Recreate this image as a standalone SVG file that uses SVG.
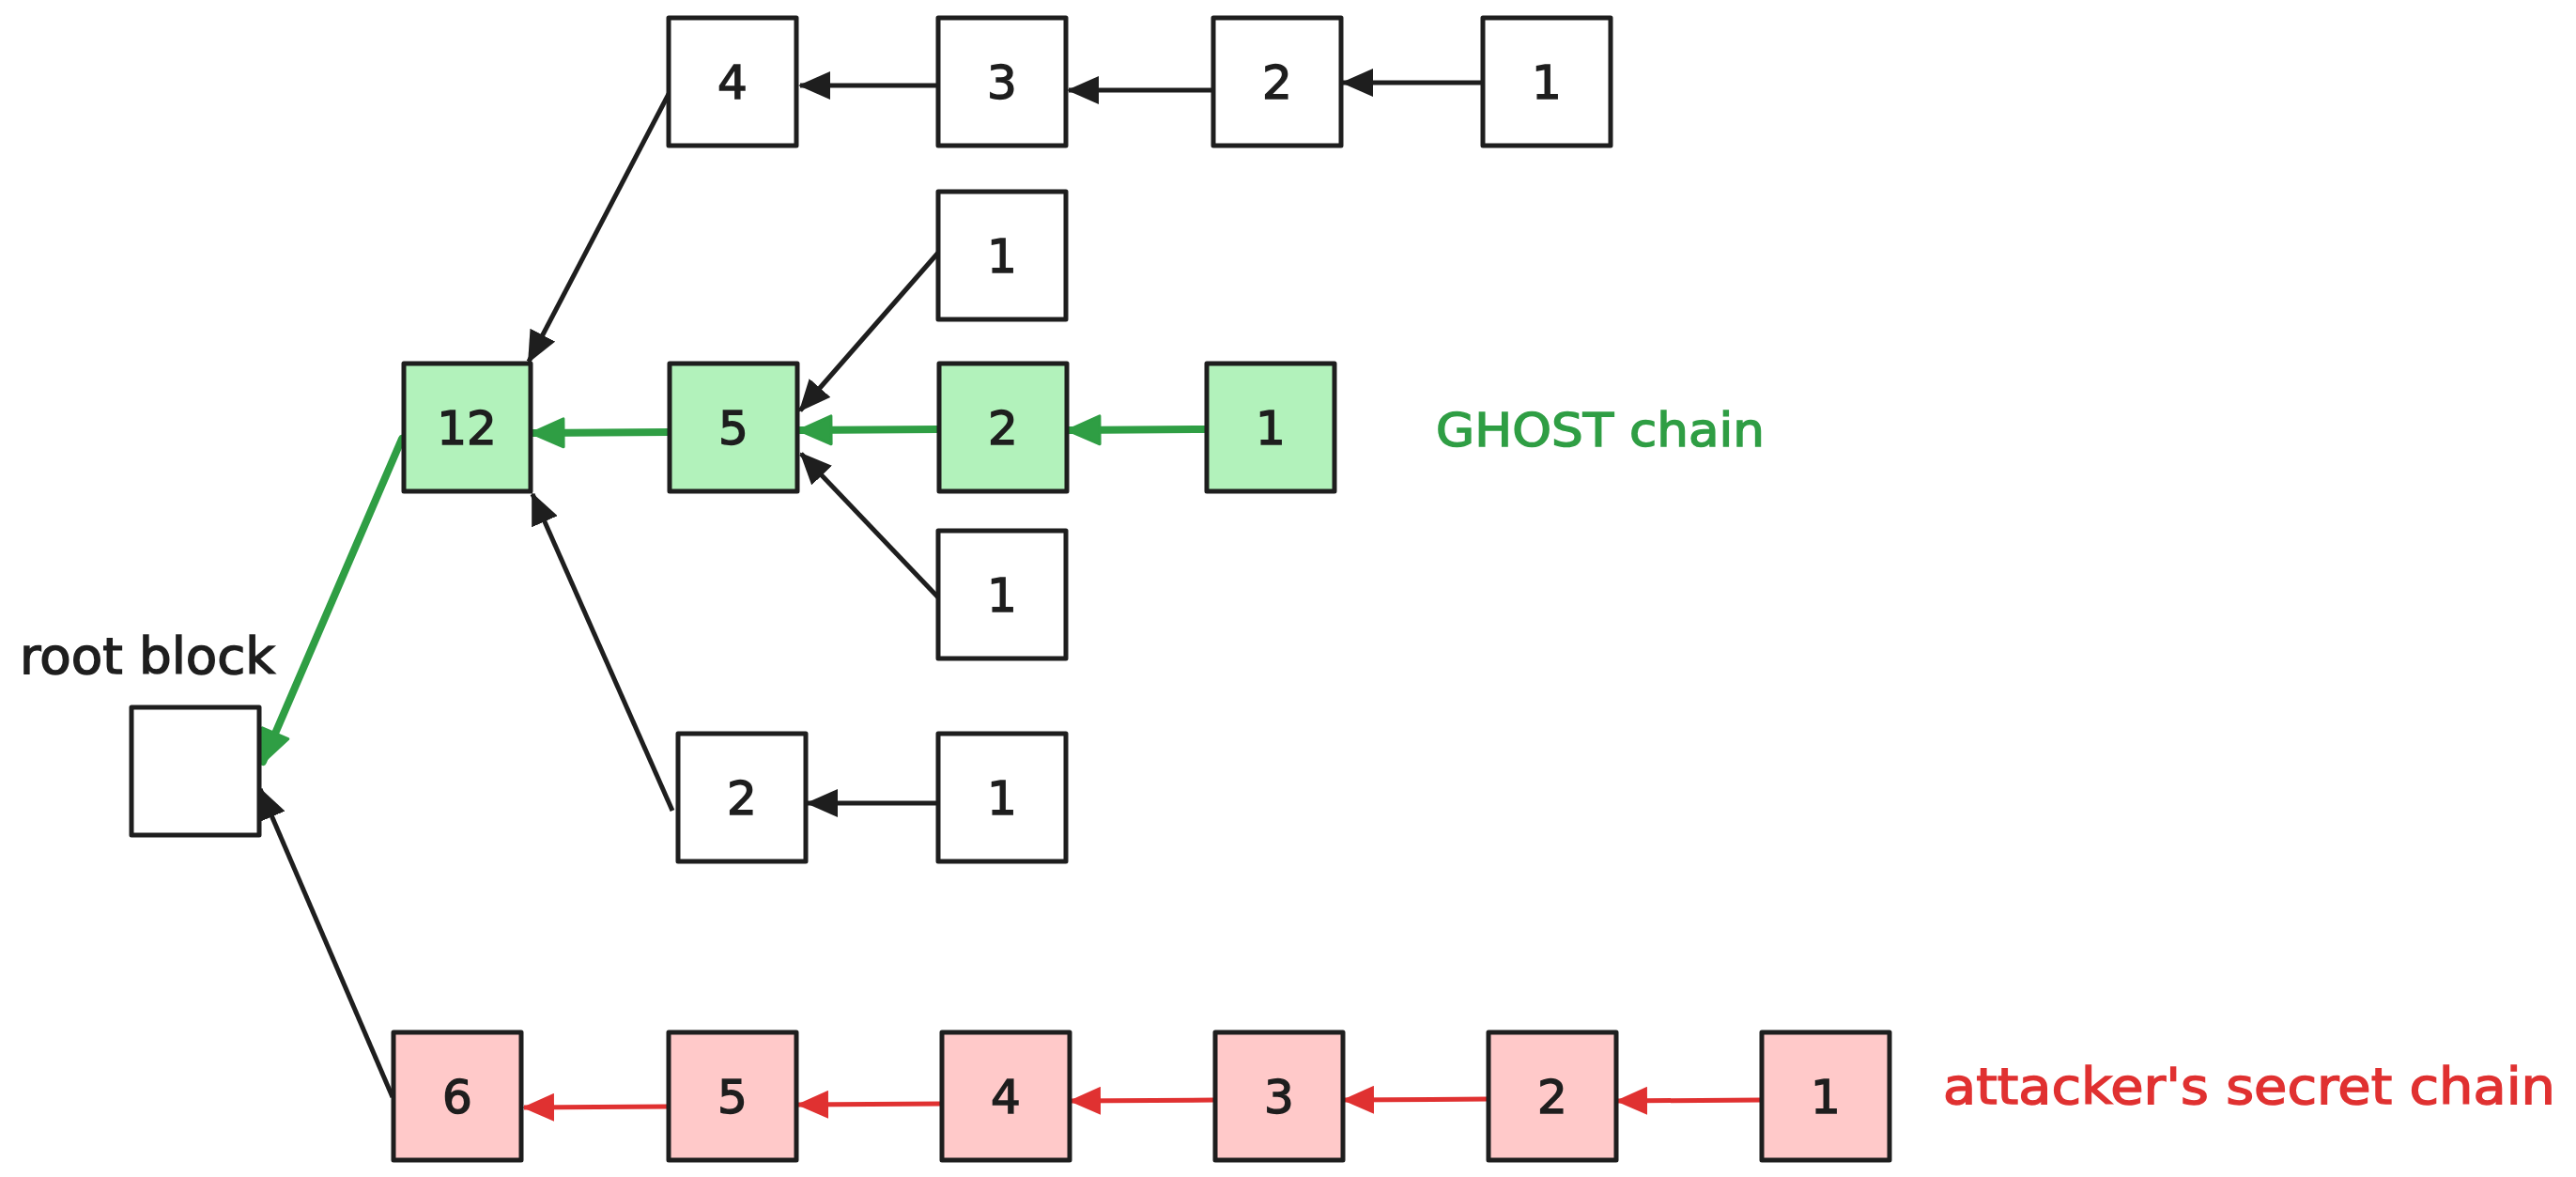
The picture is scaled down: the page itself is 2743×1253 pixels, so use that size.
<svg xmlns="http://www.w3.org/2000/svg" width="2743" height="1253" viewBox="0 0 2743 1253">
<style>
  .box { stroke: #1e1e1e; stroke-width: 5; stroke-linejoin: round; }
  .plain { fill: #ffffff; }
  .green { fill: #b2f2bb; }
  .red { fill: #ffc9c9; }
  .num { font-family: "DejaVu Sans", "Liberation Sans", sans-serif; font-size: 50px; fill: #1e1e1e; stroke: #1e1e1e; stroke-width: 1.5; text-anchor: middle; }
  .lbl { font-family: "DejaVu Sans", "Liberation Sans", sans-serif; stroke-width: 1.5; }
  .c-black { stroke: #1e1e1e; stroke-width: 5; fill: none; marker-end: url(#ah-black); }
  .c-green { stroke: #2f9e44; stroke-width: 8; fill: none; stroke-linecap: round; marker-end: url(#ah-green); }
  .c-red { stroke: #e03131; stroke-width: 5; fill: none; marker-end: url(#ah-red); }
</style>
<defs>
  <marker id="ah-black" markerUnits="userSpaceOnUse" markerWidth="34" markerHeight="30" viewBox="0 0 34 30" refX="32" refY="15" orient="auto">
    <path d="M0,0 L34,15 L0,30 z" fill="#1e1e1e"/>
  </marker>
  <marker id="ah-green" markerUnits="userSpaceOnUse" markerWidth="38" markerHeight="34" viewBox="0 0 38 34" refX="35" refY="17" orient="auto">
    <path d="M2,2 L36,17 L2,32 z" fill="#2f9e44" stroke="#2f9e44" stroke-width="3" stroke-linejoin="round"/>
  </marker>
  <marker id="ah-red" markerUnits="userSpaceOnUse" markerWidth="34" markerHeight="30" viewBox="0 0 34 30" refX="32" refY="15" orient="auto">
    <path d="M0,0 L34,15 L0,30 z" fill="#e03131"/>
  </marker>
</defs>
<rect width="2743" height="1253" fill="#ffffff"/>

<g id="connectors">
  <line class="c-black" x1="999" y1="91" x2="852" y2="91"/>
  <line class="c-black" x1="1292" y1="96" x2="1138" y2="96"/>
  <line class="c-black" x1="1579" y1="88" x2="1430" y2="88"/>
  <line class="c-black" x1="712" y1="100" x2="563" y2="385"/>
  <line class="c-black" x1="999" y1="269" x2="852" y2="437"/>
  <line class="c-black" x1="999" y1="636" x2="853" y2="483"/>
  <line class="c-black" x1="716" y1="863" x2="567" y2="526"/>
  <line class="c-black" x1="999" y1="855" x2="860" y2="855"/>
  <line class="c-black" x1="418" y1="1168" x2="277" y2="840"/>
  <line class="c-green" x1="1285" y1="457" x2="1138" y2="458"/>
  <line class="c-green" x1="1000" y1="457" x2="852" y2="458"/>
  <line class="c-green" x1="713" y1="460" x2="567" y2="461"/>
  <line class="c-green" x1="428" y1="467" x2="280" y2="811"/>
  <line class="c-red" x1="712" y1="1178" x2="558" y2="1179"/>
  <line class="c-red" x1="1003" y1="1175" x2="850" y2="1176"/>
  <line class="c-red" x1="1294" y1="1171" x2="1140" y2="1172"/>
  <line class="c-red" x1="1585" y1="1170" x2="1431" y2="1171"/>
  <line class="c-red" x1="1876" y1="1171" x2="1722" y2="1172"/>
</g>

<g id="root"><rect class="box plain" x="140" y="753" width="136" height="136"/></g>
<g id="root-label"><text class="lbl" x="21" y="717" font-size="54" fill="#1e1e1e" stroke="#1e1e1e" textLength="272" lengthAdjust="spacingAndGlyphs">root block</text></g>

<g id="top4"><rect class="box plain" x="712" y="19" width="136" height="136"/><text class="num" x="780" y="105">4</text></g>
<g id="top3"><rect class="box plain" x="999" y="19" width="136" height="136"/><text class="num" x="1067" y="105">3</text></g>
<g id="top2"><rect class="box plain" x="1292" y="19" width="136" height="136"/><text class="num" x="1360" y="105">2</text></g>
<g id="top1"><rect class="box plain" x="1579" y="19" width="136" height="136"/><text class="num" x="1647" y="105">1</text></g>

<g id="upper1"><rect class="box plain" x="999" y="204" width="136" height="136"/><text class="num" x="1067" y="290">1</text></g>

<g id="g12"><rect class="box green" x="430" y="387" width="135" height="136"/><text class="num" x="497" y="473">12</text></g>
<g id="g5"><rect class="box green" x="713" y="387" width="136" height="136"/><text class="num" x="781" y="473">5</text></g>
<g id="g2"><rect class="box green" x="1000" y="387" width="136" height="136"/><text class="num" x="1068" y="473">2</text></g>
<g id="g1"><rect class="box green" x="1285" y="387" width="136" height="136"/><text class="num" x="1353" y="473">1</text></g>

<g id="ghost-label"><text class="lbl" x="1529" y="475" font-size="50" fill="#2f9e44" stroke="#2f9e44" textLength="350" lengthAdjust="spacingAndGlyphs">GHOST chain</text></g>

<g id="lower1"><rect class="box plain" x="999" y="565" width="136" height="136"/><text class="num" x="1067" y="651">1</text></g>

<g id="b2"><rect class="box plain" x="722" y="781" width="136" height="136"/><text class="num" x="790" y="867">2</text></g>
<g id="b1"><rect class="box plain" x="999" y="781" width="136" height="136"/><text class="num" x="1067" y="867">1</text></g>

<g id="r6"><rect class="box red" x="419" y="1099" width="136" height="136"/><text class="num" x="487" y="1185">6</text></g>
<g id="r5"><rect class="box red" x="712" y="1099" width="136" height="136"/><text class="num" x="780" y="1185">5</text></g>
<g id="r4"><rect class="box red" x="1003" y="1099" width="136" height="136"/><text class="num" x="1071" y="1185">4</text></g>
<g id="r3"><rect class="box red" x="1294" y="1099" width="136" height="136"/><text class="num" x="1362" y="1185">3</text></g>
<g id="r2"><rect class="box red" x="1585" y="1099" width="136" height="136"/><text class="num" x="1653" y="1185">2</text></g>
<g id="r1"><rect class="box red" x="1876" y="1099" width="136" height="136"/><text class="num" x="1944" y="1185">1</text></g>

<g id="attacker-label"><text class="lbl" x="2069" y="1175" font-size="54" fill="#e03131" stroke="#e03131" textLength="652" lengthAdjust="spacingAndGlyphs">attacker's secret chain</text></g>
</svg>
